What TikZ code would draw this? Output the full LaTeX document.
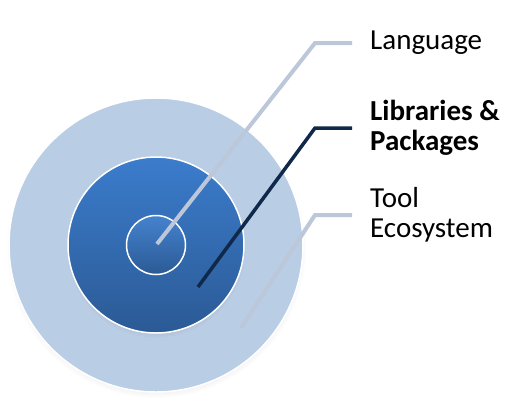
\documentclass[tikz,border=0pt]{standalone}
\usepackage{fontspec}
\setmainfont{Carlito}
\usepackage{tikz}
\usetikzlibrary{positioning}
\usetikzlibrary{shadows}

\definecolor{ringlight}{HTML}{B9CDE5}
\definecolor{ringtop}{HTML}{3B7CCC}
\definecolor{ringbot}{HTML}{2B5A95}
\definecolor{leadlight}{HTML}{BCC7DA}
\definecolor{leaddark}{HTML}{10294A}

\tikzset{
  ring/.style={circle, draw=white, line width=1.5pt, inner sep=0pt, minimum size=#1},
  softshadow/.style={circular drop shadow={shadow xshift=0pt, shadow yshift=-3pt,
      shadow scale=1.02, opacity=0.3}},
  lead/.style={line width=4pt, line cap=butt, line join=miter},
  label/.style={font=\fontsize{29}{30}\selectfont, align=left, inner sep=0pt}
}

\begin{document}
\begin{tikzpicture}[x=1pt, y=-1pt]
\useasboundingbox (0,0) rectangle (524,405);

\node (Tool) [ring=294pt, fill=ringlight, softshadow] at (156,245) {};
\node (Libs) [ring=176pt, top color=ringtop, bottom color=ringbot, softshadow] at (156,245) {};
\node (Lang) [ring=59pt, top color=ringtop!95!white, bottom color=ringbot] at (156,245) {};

\coordinate (LangA) at (157,244);
\coordinate (LangB) at (315,43);
\coordinate (LangC) at (352,43);
\coordinate (LibsA) at (198,287);
\coordinate (LibsB) at (315,128);
\coordinate (LibsC) at (352,128);
\coordinate (ToolA) at (241,328);
\coordinate (ToolB) at (315,215);
\coordinate (ToolC) at (352,215);

\node (LangT) [label, right=18pt of LangC] {Language};
\node (LibsT) [label, font=\fontsize{29}{30}\selectfont\bfseries, right=18pt of LibsC] {Libraries \&\\Packages};
\node (ToolT) [label, right=18pt of ToolC] {Tool\\Ecosystem};

\draw [lead, leadlight] (LangA) -- (LangB) -- (LangC);
\draw [lead, leaddark, line width=3.5pt] (LibsA) -- (LibsB) -- (LibsC);
\draw [lead, leadlight] (ToolA) -- (ToolB) -- (ToolC);
\end{tikzpicture}
\end{document}
